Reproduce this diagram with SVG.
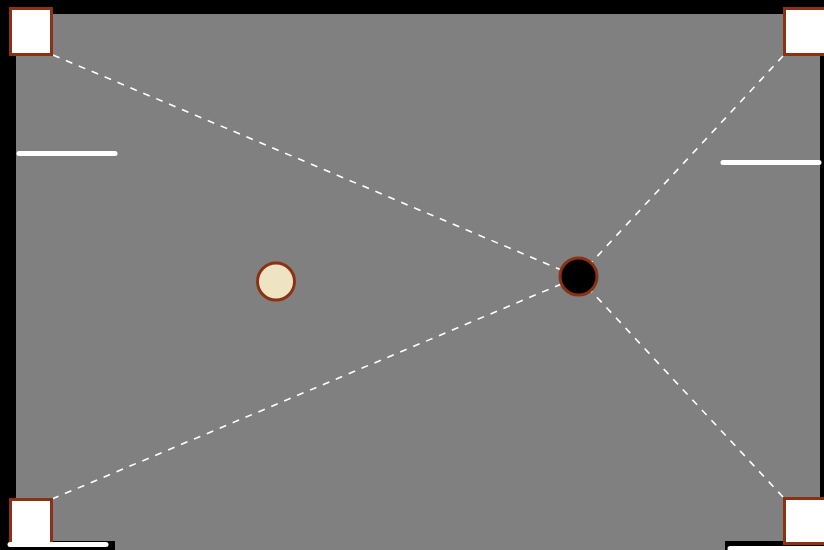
<svg xmlns="http://www.w3.org/2000/svg" width="824" height="550" viewBox="0 0 824 550">
<style>
.pocket{fill:#ffffff;stroke:#8B3214;stroke-width:3}
.rail{stroke:#ffffff;stroke-width:5;stroke-linecap:round;fill:none}
.cue{stroke:#ffffff;stroke-width:1.6;stroke-dasharray:7 7;fill:none}
.ball{stroke:#8B3214;stroke-width:3}
</style>
<rect x="0" y="0" width="824" height="550" fill="#000000"/>
<rect id="table" x="16" y="14" width="804" height="536" fill="#808080"/>
<rect x="0" y="541" width="115" height="9" fill="#000000"/>
<rect x="725" y="541" width="99" height="9" fill="#000000"/>
<g id="connectors">
<line class="cue" x1="53" y1="55" x2="578" y2="277"/>
<line class="cue" x1="783" y1="56" x2="578" y2="277"/>
<line class="cue" x1="52" y1="499" x2="578" y2="277"/>
<line class="cue" x1="783" y1="497" x2="578" y2="277"/>
</g>
<g id="pocket-tl"><rect class="pocket" x="10.5" y="8.5" width="41" height="46"/></g>
<g id="pocket-tr"><rect class="pocket" x="784.5" y="8.5" width="45" height="46"/></g>
<g id="pocket-bl"><rect class="pocket" x="10.5" y="499.5" width="41" height="46"/></g>
<g id="pocket-br"><rect class="pocket" x="784.5" y="498.5" width="45" height="45"/></g>
<g id="rail-l"><line class="rail" x1="19" y1="153.5" x2="115" y2="153.5"/></g>
<g id="rail-r"><line class="rail" x1="723" y1="162.5" x2="819" y2="162.5"/></g>
<g id="rail-bl"><line class="rail" x1="10" y1="544.5" x2="106" y2="544.5"/></g>
<g id="rail-br"><line class="rail" x1="730" y1="548.5" x2="826" y2="548.5"/></g>
<g id="ball-cue"><circle class="ball" cx="276" cy="281.5" r="18.5" fill="#EEE4C4"/></g>
<g id="ball-8"><circle class="ball" cx="578.5" cy="276.5" r="18.5" fill="#000000"/></g>
</svg>
